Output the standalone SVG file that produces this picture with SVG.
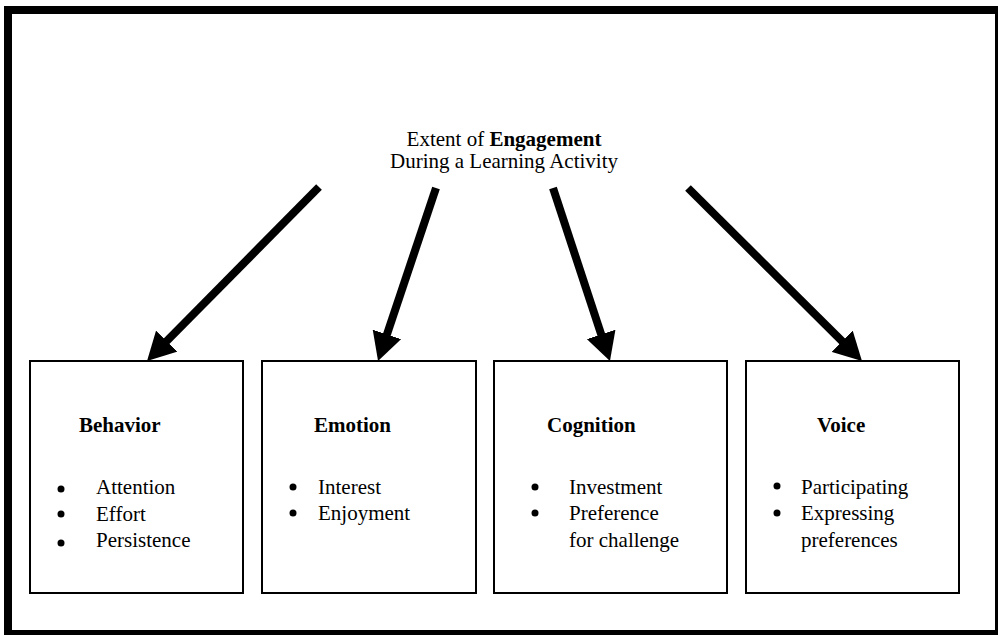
<svg xmlns="http://www.w3.org/2000/svg" width="998" height="635" viewBox="0 0 998 635">
<style>
text{font-family:"Liberation Serif","Times New Roman",serif;font-size:21px;fill:#000}
.b{font-weight:bold}
.box{fill:#fff;stroke:#000;stroke-width:2}
.arr{stroke:#000;stroke-width:8;fill:none;marker-end:url(#ah)}
</style>
<defs>
<marker id="ah" viewBox="0 0 28 30" refX="8" refY="15" markerWidth="28" markerHeight="30" markerUnits="userSpaceOnUse" orient="auto">
<path d="M0,0 L28,15 L0,30 Z" fill="#000"/>
</marker>
</defs>
<rect x="0" y="0" width="998" height="635" fill="#fff"/>
<g id="frame">
<rect x="4" y="6" width="994" height="629" fill="#000"/>
<rect x="12" y="14" width="983" height="616" fill="#fff"/>
</g>
<g id="title">
<text x="504" y="146" text-anchor="middle">Extent of <tspan class="b">Engagement</tspan></text>
<text x="504" y="168" text-anchor="middle">During a Learning Activity</text>
</g>
<g id="connectors">
<line class="arr" x1="319" y1="187" x2="161.1" y2="346.8"/>
<line class="arr" x1="436" y1="188" x2="384.4" y2="342"/>
<line class="arr" x1="553" y1="188" x2="603.7" y2="342"/>
<line class="arr" x1="688" y1="188" x2="847.8" y2="346.9"/>
</g>
<g id="behavior">
<rect class="box" x="30" y="361" width="213" height="232"/>
<text class="b" x="79" y="432">Behavior</text>
<circle cx="61" cy="489" r="3.5"/>
<circle cx="61" cy="514" r="3.5"/>
<circle cx="61" cy="543" r="3.5"/>
<text x="96" y="494">Attention</text>
<text x="96" y="521">Effort</text>
<text x="96" y="547">Persistence</text>
</g>
<g id="emotion">
<rect class="box" x="262" y="361" width="214" height="232"/>
<text class="b" x="314" y="432">Emotion</text>
<circle cx="293" cy="487" r="3.5"/>
<circle cx="293" cy="513" r="3.5"/>
<text x="318" y="494">Interest</text>
<text x="318" y="520">Enjoyment</text>
</g>
<g id="cognition">
<rect class="box" x="494" y="361" width="233" height="232"/>
<text class="b" x="547" y="432">Cognition</text>
<circle cx="535" cy="487" r="3.5"/>
<circle cx="535" cy="513" r="3.5"/>
<text x="569" y="494">Investment</text>
<text x="569" y="520">Preference</text>
<text x="569" y="547">for challenge</text>
</g>
<g id="voice">
<rect class="box" x="746" y="361" width="213" height="232"/>
<text class="b" x="817" y="432">Voice</text>
<circle cx="777" cy="486" r="3.5"/>
<circle cx="777" cy="513" r="3.5"/>
<text x="801" y="494">Participating</text>
<text x="801" y="520">Expressing</text>
<text x="801" y="547">preferences</text>
</g>
</svg>
